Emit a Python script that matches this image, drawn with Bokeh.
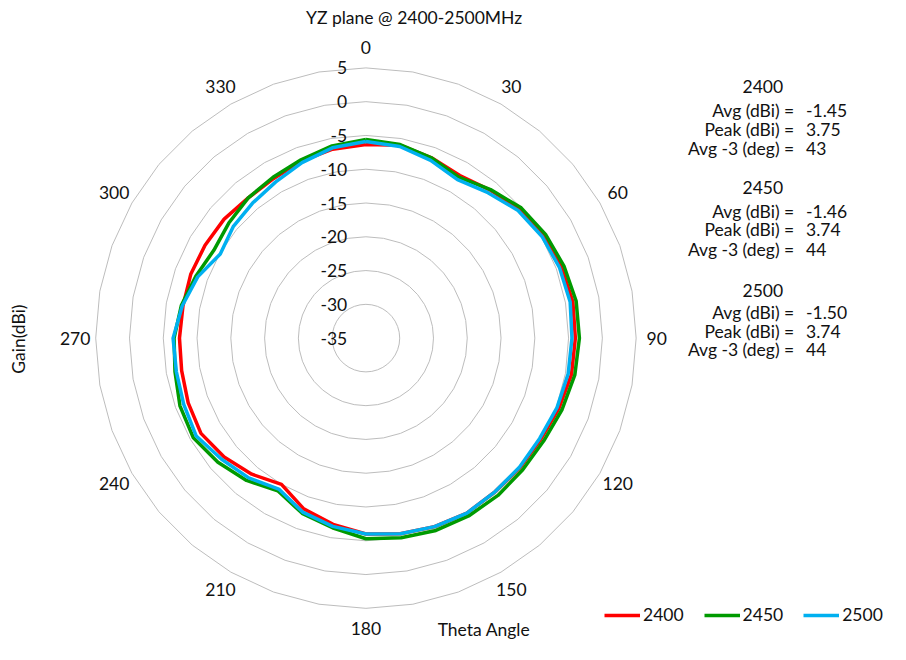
import numpy as np
from bokeh.plotting import figure
from bokeh.models import Range1d, Label, Legend, LegendItem
from bokeh.core.properties import value
from bokeh.embed import file_html
from bokeh.resources import INLINE

# ---------------- data ----------------
title_text = "YZ plane @ 2400-2500MHz"
angles = list(range(0, 360, 10))  # theta, degrees, clockwise from top

gain_2400 = [-6.35, -6.0, -6.6, -7.2, -6.4, -5.3, -4.6, -4.2, -3.9, -4.0,
             -4.1, -4.6, -5.1, -5.2, -5.3, -5.1, -5.3, -5.6, -6.0, -7.0,
             -8.1, -10.0, -8.7, -7.6, -6.8, -7.0, -7.3, -7.4, -7.5, -7.4,
             -7.5, -7.6, -7.9, -7.7, -7.1, -6.6]
gain_2450 = [-5.6, -5.9, -6.6, -7.5, -6.3, -5.0, -4.3, -3.8, -3.4, -3.4,
             -3.6, -4.1, -4.6, -4.7, -4.6, -4.6, -4.7, -5.0, -5.3, -6.5,
             -7.4, -8.9, -7.5, -6.4, -5.5, -5.7, -6.3, -6.6, -7.25, -8.2,
             -9.0, -8.5, -7.9, -7.5, -6.9, -6.1]
gain_2500 = [-5.9, -6.2, -7.0, -7.9, -6.9, -5.6, -4.9, -4.5, -4.3, -4.5,
             -4.6, -4.9, -5.3, -5.3, -5.3, -5.1, -5.3, -5.6, -6.0, -6.7,
             -7.6, -9.2, -8.0, -7.1, -6.0, -6.3, -6.5, -6.45, -7.4, -8.5,
             -10.1, -9.35, -8.9, -8.3, -7.35, -6.4]

series_names = ["2400", "2450", "2500"]
series_colors = ["#ff0000", "#009a00", "#00b0f0"]

ring_values = [-35, -30, -25, -20, -15, -10, -5, 0, 5]
angle_label_values = [0, 30, 60, 90, 120, 150, 180, 210, 240, 270, 300, 330]

stat_avg = ["-1.45", "-1.46", "-1.50"]
stat_peak = ["3.75", "3.74", "3.74"]
stat_avg3 = ["43", "44", "44"]
stat_row_names = ["Avg (dBi) =", "Peak (dBi) =", "Avg -3 (deg) ="]

# ---------------- layout ----------------
R_MIN = -35.0
W, H = 890, 644
SX, SY = W / 906.0, H / 660.0      # reference layout -> frame
S = (SX + SY) / 2.0
PX = 6.9 * S                       # screen px per dB
CX, CY = 372 * SX, 346 * SY        # polar centre in frame px (from top-left)
FONT = value("Lato")
FS = "17.5px"
TXT = "#111111"


def P(x, y):
    """reference-layout pixel -> data coordinates"""
    return (x * SX - CX) / PX, (CY - y * SY) / PX


def polar(vals, degs):
    r = np.asarray(vals, dtype=float) - R_MIN
    t = np.radians(np.asarray(degs, dtype=float))
    return r * np.sin(t), r * np.cos(t)


p = figure(width=W, height=H, output_backend="svg", toolbar_location=None,
           x_range=Range1d(-CX / PX, (W - CX) / PX),
           y_range=Range1d(-(H - CY) / PX, CY / PX),
           min_border=0)
p.axis.visible = False
p.grid.visible = False
p.outline_line_color = None
p.background_fill_color = "white"

# grid rings (36-gons)
ring_xs, ring_ys = [], []
for v in ring_values:
    if v == R_MIN:
        continue
    gx, gy = polar([v] * (len(angles) + 1), angles + [angles[0]])
    ring_xs.append(list(gx))
    ring_ys.append(list(gy))
p.multi_line(ring_xs, ring_ys, line_color="#bdbdbd", line_width=1)

# radial labels
lx, _ = P(353, 0)
p.text(x=[lx] * len(ring_values), y=[v - R_MIN for v in ring_values],
       text=[str(v) for v in ring_values], text_align="right",
       text_baseline="middle", text_font=FONT, text_font_size=FS,
       text_color=TXT)

# angle labels
R_LAB = 297 * S / PX + R_MIN
ax_, ay_ = polar([R_LAB] * len(angle_label_values), angle_label_values)
p.text(x=list(ax_), y=list(ay_), text=[str(a) for a in angle_label_values],
       text_align="center", text_baseline="middle", text_font=FONT,
       text_font_size=FS, text_color=TXT)

# series
renderers = []
for name, vals, col in zip(series_names, [gain_2400, gain_2450, gain_2500], series_colors):
    sx, sy = polar(vals + [vals[0]], angles + [angles[0]])
    r = p.line(list(sx), list(sy), line_color=col, line_width=3.5,
               line_join="round")
    renderers.append(r)

legend = Legend(items=[LegendItem(label=n, renderers=[r]) for n, r in zip(series_names, renderers)],
                orientation="horizontal",
                location=(int(round(615 * SX)), int(round(H - 630 * SY - 10))),
                glyph_width=36, glyph_height=20, label_standoff=3, spacing=20,
                padding=0, margin=0, border_line_alpha=0, background_fill_alpha=0,
                label_text_font="Lato", label_text_font_size=FS,
                label_text_color=TXT)
p.add_layout(legend)


def add_label(x, y, text, align="center", angle=0):
    dx, dy = P(x, y)
    p.add_layout(Label(x=dx, y=dy, text=text, text_align=align,
                       text_baseline="middle", text_font="Lato",
                       text_font_size=FS, text_color=TXT,
                       angle=angle, angle_units="deg"))


add_label(421, 17, title_text)
add_label(18, 347, "Gain(dBi)", angle=90)
add_label(445, 645, "Theta  Angle", align="left")

header_y = [88, 192, 297]
row_y = [[113, 132, 152], [216, 235, 255], [320, 339, 358]]
for i, name in enumerate(series_names):
    add_label(776, header_y[i], name)
    vals = [stat_avg[i], stat_peak[i], stat_avg3[i]]
    for j in range(3):
        add_label(808, row_y[i][j], stat_row_names[j], align="right")
        add_label(820, row_y[i][j], vals[j], align="left")

open("out.html", "w").write(file_html(p, INLINE))
